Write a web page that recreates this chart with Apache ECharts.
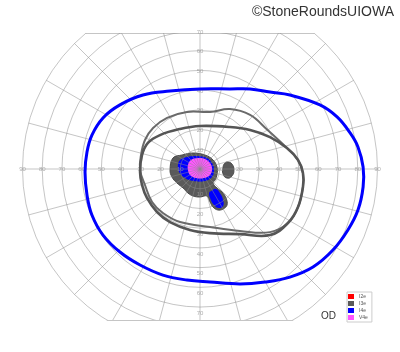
<!DOCTYPE html>
<html><head><meta charset="utf-8">
<script src="https://cdn.jsdelivr.net/npm/echarts@6/dist/echarts.min.js"></script>
<style>html,body{margin:0;padding:0;background:#fff}#c{width:400px;height:352px}</style>
</head><body><div id="c"></div>
<script>
// ---- grid / tick data (degrees) ----
const rings = [10, 20, 30, 40, 50, 60, 70, 80, 90];
const spokeAngles = [0, 15, 30, 45, 60, 75, 90, 105, 120, 135, 150, 165, 180, 195, 210, 225, 240, 255, 270, 285, 300, 315, 330, 345];
const xTickLabels = [10, 20, 30, 40, 50, 60, 70, 80, 90];
const yTickLabels = [10, 20, 30, 40, 50, 60, 70];
const legendNames = ['I2e', 'I3e', 'I4e', 'V4e'];

// ---- isopters, [horizontal deg, vertical deg] ----
const isoI4eOuter = [[0,40.6],[15.2,40.6],[25.4,40.6],[35.5,39.0],[45.6,37.5],[60.8,32.5],[69.5,26.4],[76.1,18.3],[80.1,11.2],[82.7,1.0],[82.7,-9.1],[80.1,-20.8],[75.0,-30.9],[67.4,-41.1],[57.3,-49.7],[45.6,-54.8],[33.0,-57.3],[20.3,-58.3],[5.1,-57.3],[-6.6,-56.3],[-18.8,-53.8],[-30.4,-48.7],[-40.6,-42.1],[-49.2,-33.5],[-54.8,-23.3],[-57.3,-13.2],[-58.3,-1.5],[-57.3,8.6],[-54.8,17.2],[-49.2,25.9],[-40.6,32.5],[-28.9,37.5],[-15.2,39.5]];
const isoI3eA = [[0,21.8],[15.2,21.3],[25.4,19.8],[35.5,16.2],[44.1,10.6],[49.7,4.6],[52.2,-2.0],[52.2,-9.1],[49.7,-19.3],[44.6,-27.4],[35.5,-33.5],[20.3,-33.0],[5.1,-32.5],[-5.1,-30.9],[-15.2,-26.9],[-21.8,-21.8],[-26.9,-14.7],[-29.4,-8.1],[-30.4,-1.5],[-29.4,7.1],[-26.4,13.2],[-20.3,17.2],[-10.1,20.3]];
const isoI3eB = [[5.1,28.9],[15.2,30.4],[25.4,27.4],[34.0,20.0],[44.1,10.6],[49.7,4.6],[52.2,-2.0],[52.2,-9.1],[49.7,-19.3],[44.6,-27.4],[35.5,-32.0],[20.3,-31.4],[5.1,-29.4],[-10.1,-26.9],[-18.8,-22.3],[-24.3,-16.7],[-27.9,-8.1],[-30.4,-0.5],[-29.9,7.1],[-27.9,14.7],[-23.8,20.8],[-16.7,25.9],[-6.6,28.9]];

// ---- filled areas ----
const fillI3eCentral = [[-15.2,-0.5],[-13.7,5.6],[-9.1,7.1],[-3.5,8.1],[2.5,7.1],[6.6,4.6],[8.6,1.0],[8.6,-3.0],[7.6,-5.6],[6.6,-7.1],[8.6,-9.6],[11.2,-11.7],[13.2,-14.7],[13.7,-18.3],[11.7,-20.3],[9.1,-20.8],[6.6,-19.3],[5.1,-16.7],[3.5,-13.7],[0,-14.2],[-3.5,-13.7],[-6.1,-12.2],[-8.6,-9.6],[-11.7,-7.1],[-14.2,-4.1]];
const fillI3eIsland = [[14.2,3.5],[16.2,2.5],[17.2,-0.5],[16.2,-3.5],[13.7,-4.6],[11.7,-2.5],[11.7,1.0],[12.7,3.0]];
const fillI4eCentral = [[-11.2,2.0],[-10.1,4.6],[-6.6,6.1],[-1.5,6.6],[3.5,5.6],[6.1,3.0],[7.1,-0.5],[6.1,-4.1],[2.5,-6.1],[-3.5,-6.1],[-7.6,-4.6],[-10.6,-1.5]];
const fillI4eIsland = [[5.6,-11.2],[8.1,-10.1],[10.1,-12.2],[11.7,-15.7],[11.7,-18.8],[9.6,-19.8],[7.1,-18.3],[5.1,-14.7],[4.6,-12.2]];
const fillV4eCentral = [[-6.1,2.0],[-4.6,4.6],[-1.0,5.6],[2.5,5.1],[5.1,3.0],[6.1,0],[5.1,-3.0],[2.0,-4.6],[-2.0,-4.6],[-5.1,-3.0],[-6.1,-0.5]];

// ---- styling / layout ----
const COLORS = { I2e: '#ff0000', I3e: '#5a5a5a', I4e: '#0000ff', V4e: '#ff55ff' };
const GRID_LINE = 'rgba(140,140,140,0.5)';
const SCALE = 1.9722;        // px per degree
const Y_MAX = 68.96, Y_MIN = -76.56, X_LIM = 91;

function polySeries(name, pts, opt) {
  return {
    type: 'custom', name: name, coordinateSystem: 'cartesian2d', clip: true, silent: true,
    z: opt.z, itemStyle: { color: COLORS[name] },
    encode: { x: 0, y: 1 },
    data: pts,
    renderItem: function (params, api) {
      if (params.dataIndexInside !== 0) return null;
      const n = params.dataInsideLength;
      const p = [];
      for (let i = 0; i < n; i++) p.push(api.coord([api.value(0, i), api.value(1, i)]));
      return { type: 'polygon', shape: { points: p, smooth: opt.smooth },
        style: { fill: opt.fill || 'none', stroke: opt.stroke || null, lineWidth: opt.lw || 0 } };
    }
  };
}

function labelSeries(pts, offset) {
  return {
    type: 'scatter', symbolSize: 0, clip: false, silent: true, z: 5,
    data: pts,
    label: { show: true, position: 'inside', offset: offset, formatter: p => String(p.value[2]),
      fontSize: 6, color: '#9a9a9a', fontFamily: 'Liberation Sans' }
  };
}

const chart = echarts.init(document.getElementById('c'), null, { renderer: 'canvas' });
const series = [];

// fills
series.push(polySeries('I3e', fillI3eCentral, { z: 1, fill: COLORS.I3e, stroke: '#4a4a4a', lw: 1, smooth: 0.4 }));
series.push(polySeries('I3e', fillI3eIsland, { z: 1, fill: COLORS.I3e, stroke: '#4a4a4a', lw: 1, smooth: 0.5 }));
series.push(polySeries('I4e', fillI4eCentral, { z: 2, fill: COLORS.I4e, smooth: 0.4 }));
series.push(polySeries('I4e', fillI4eIsland, { z: 2, fill: COLORS.I4e, smooth: 0.5 }));
series.push(polySeries('V4e', fillV4eCentral, { z: 2, fill: COLORS.V4e, smooth: 0.4 }));

// grid rings
series.push({
  type: 'custom', coordinateSystem: 'cartesian2d', clip: true, silent: true, z: 3,
  encode: { x: 0 }, data: rings.map(r => [r]),
  renderItem: function (params, api) {
    const c = api.coord([0, 0]);
    const r = api.size([api.value(0), 0])[0];
    return { type: 'circle', shape: { cx: c[0], cy: c[1], r: r }, style: { fill: 'none', stroke: GRID_LINE, lineWidth: 1 } };
  }
});
// spokes
series.push({
  type: 'custom', coordinateSystem: 'cartesian2d', clip: true, silent: true, z: 3,
  encode: { x: 0 }, data: spokeAngles.map(a => [a]),
  renderItem: function (params, api) {
    const a = api.value(0) * Math.PI / 180;
    const R = rings[rings.length - 1];
    const c0 = api.coord([0, 0]);
    const c1 = api.coord([R * Math.cos(a), R * Math.sin(a)]);
    return { type: 'line', shape: { x1: c0[0], y1: c0[1], x2: c1[0], y2: c1[1] }, style: { stroke: GRID_LINE, lineWidth: 1 } };
  }
});
// frame chords at top and bottom of the field
series.push({
  type: 'custom', coordinateSystem: 'cartesian2d', clip: false, silent: true, z: 3,
  encode: { y: 0 }, data: [[Y_MAX], [Y_MIN]],
  renderItem: function (params, api) {
    const y = api.value(0);
    const R = rings[rings.length - 1];
    const hx = Math.sqrt(R * R - y * y);
    const a = api.coord([-hx, y]), b = api.coord([hx, y]);
    return { type: 'line', shape: { x1: a[0], y1: Math.round(a[1]) + 0.5, x2: b[0], y2: Math.round(b[1]) + 0.5 }, style: { stroke: GRID_LINE, lineWidth: 1 } };
  }
});

// tick labels
series.push(labelSeries(xTickLabels.flatMap(v => [[-v, 0, v], [v, 0, v]]), [0, 0]));
series.push(labelSeries(yTickLabels.map(v => [0, v, v]), [0, 1]));
series.push(labelSeries(yTickLabels.map(v => [0, -v, v]), [0, 6]));

// isopter outlines
series.push(polySeries('I3e', isoI3eB, { z: 6, stroke: '#6a6a6a', lw: 2, smooth: 0.4 }));
series.push(polySeries('I3e', isoI3eA, { z: 6, stroke: '#555555', lw: 2.6, smooth: 0.4 }));
series.push(polySeries('I4e', isoI4eOuter, { z: 7, stroke: COLORS.I4e, lw: 3, smooth: 0.4 }));
// legend-only entry
series.push({ type: 'custom', name: 'I2e', itemStyle: { color: COLORS.I2e }, data: [], renderItem: () => null });

chart.setOption({
  animation: false,
  backgroundColor: '#ffffff',
  title: { text: '©StoneRoundsUIOWA', right: 1, top: 0,
    textStyle: { fontSize: 14, fontWeight: 'normal', color: '#333', fontFamily: 'Liberation Sans' } },
  grid: { left: 200 - X_LIM * SCALE, width: 2 * X_LIM * SCALE, top: 33, height: (Y_MAX - Y_MIN) * SCALE },
  xAxis: { type: 'value', min: -X_LIM, max: X_LIM, show: false },
  yAxis: { type: 'value', min: Y_MIN, max: Y_MAX, show: false },
  legend: {
    data: legendNames.map(n => ({ name: n, icon: 'rect', itemStyle: { color: COLORS[n] } })),
    orient: 'vertical', left: 347, top: 292, padding: [2, 4, 2, 1],
    itemWidth: 6, itemHeight: 5, itemGap: 2, selectedMode: false,
    borderColor: '#cccccc', borderWidth: 1, backgroundColor: '#fff',
    textStyle: { fontSize: 5, lineHeight: 5, color: '#555', fontFamily: 'Liberation Sans', padding: [0, 0, 0, 0] }
  },
  graphic: [{ type: 'text', left: 321, top: 311, style: { text: 'OD', fontSize: 10, fill: '#333', fontFamily: 'Liberation Sans' } }],
  series: series
});
</script>
</body></html>
